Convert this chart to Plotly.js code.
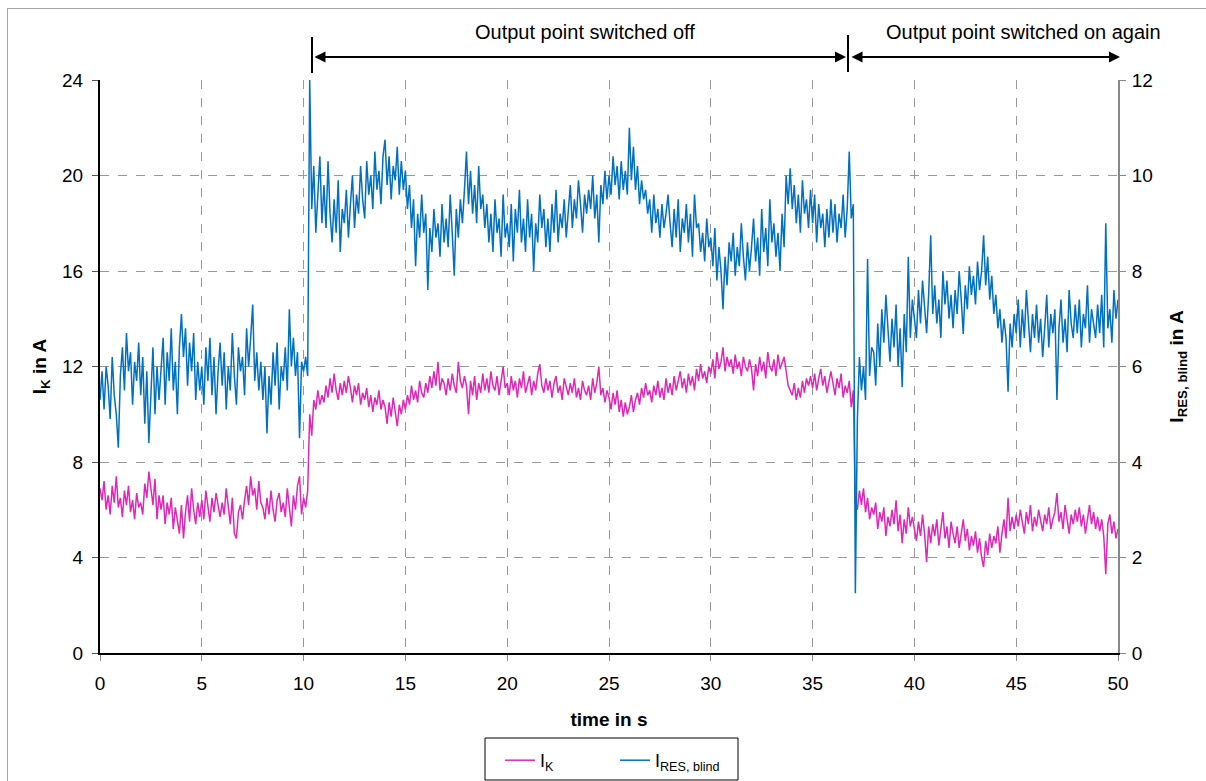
<!DOCTYPE html>
<html>
<head>
<meta charset="utf-8">
<script src="https://cdn.plot.ly/plotly-3.0.1.min.js"></script>
<style>
  html, body { margin: 0; padding: 0; background: #fff; }
  #chart { position: absolute; left: 0; top: 0; width: 1206px; height: 781px; }
  #frame { position: absolute; left: 7px; top: 8px; width: 1300px; height: 900px;
           border-left: 1px solid #a6a6a6; border-top: 1px solid #a6a6a6; pointer-events: none; }
</style>
</head>
<body>
<div id="chart"></div>
<div id="frame"></div>
<script>
// sampling of the recorded signals (seconds)
const T0 = 0;
const DT = 0.1;

// I_K in A (left axis), one row per second, 10 samples per row
const iK = [
  6.9, 6.4, 7.2, 6.0, 6.6, 5.8, 7.0, 6.3, 7.4, 6.1,
  6.5, 5.7, 6.8, 6.2, 7.0, 5.9, 6.4, 5.6, 6.7, 6.1,
  6.3, 5.8, 7.1, 6.5, 7.6, 6.9, 6.2, 7.3, 5.6, 6.6,
  6.0, 6.6, 5.4, 6.3, 5.8, 6.5, 5.2, 6.1, 5.6, 5.0,
  6.2, 4.8, 5.9, 6.6, 5.5, 6.9, 6.0, 5.4, 6.3, 5.7,
  6.4, 5.6, 6.8, 6.1, 5.5, 6.5, 5.9, 6.7, 6.2, 5.7,
  6.3, 5.8, 6.9, 6.0, 5.4, 6.5, 5.0, 4.8, 5.9, 6.2,
  5.6, 6.4, 7.0, 6.2, 7.4, 6.6, 6.9, 6.0, 7.2, 6.3,
  6.1, 5.6, 6.5, 5.8, 6.8, 6.0, 5.5, 6.4, 6.7, 5.9,
  6.3, 5.7, 6.9, 6.1, 5.3, 6.6, 6.0, 7.0, 7.4, 5.8,
  6.5, 6.1, 6.8, 10.0, 9.1, 10.6, 10.2, 11.0, 10.4, 10.8,
  10.5, 11.2, 10.7, 11.5, 10.9, 11.7, 11.0, 10.6, 11.3, 10.8,
  11.4, 10.9, 11.6, 11.1, 10.5, 11.2, 10.8, 11.3, 10.4, 10.9,
  10.6, 11.1, 10.3, 10.8, 10.1, 10.7, 10.4, 11.0, 10.2, 10.6,
  10.3, 9.6, 10.5, 9.9, 10.7, 10.1, 9.5, 10.4, 10.0, 10.6,
  10.2, 10.8, 10.4, 11.2, 10.6, 11.0, 10.5, 11.4, 10.9, 10.7,
  11.3, 10.9, 11.6, 11.1, 11.8, 11.2, 12.2, 11.0, 11.5, 11.3,
  10.8, 11.5, 11.0, 11.7, 11.2, 10.9, 12.2, 11.4, 11.1, 11.6,
  11.2, 10.0, 11.4, 10.8, 11.6, 10.6, 11.3, 10.9, 11.7, 11.0,
  11.5, 10.9, 11.8, 11.2, 11.0, 11.6, 10.8, 11.4, 12.0, 11.1,
  11.3, 10.8, 11.6, 11.0, 11.4, 10.7, 11.5, 11.1, 11.8, 10.9,
  11.2, 11.6, 10.8, 11.4, 11.0, 11.7, 12.1, 11.2, 10.9, 11.5,
  11.0, 11.4, 10.7, 11.3, 11.6, 10.9, 11.2, 10.6, 11.5, 11.1,
  10.8, 11.3, 10.9, 11.5, 10.7, 11.1, 10.6, 11.4, 11.0, 10.8,
  11.2, 10.6, 11.5, 10.9, 11.3, 12.0, 10.8, 11.1, 10.5, 11.0,
  10.7, 10.2, 10.9, 10.4, 11.0, 10.1, 10.6, 9.9, 10.5, 10.0,
  10.3, 10.8, 10.1, 10.6, 10.9, 10.4, 11.1, 10.7, 11.3, 10.8,
  11.0, 10.5, 11.2, 10.8, 11.4, 10.7, 11.1, 10.6, 11.5, 10.9,
  11.3, 10.8, 11.6, 11.0, 11.4, 11.8, 11.1, 11.5, 10.9, 11.7,
  11.2, 11.6, 11.0, 11.9, 11.4, 12.1, 11.5, 11.8, 11.3, 12.0,
  11.7, 12.3, 11.5, 12.6, 11.9, 12.2, 12.8, 11.8, 12.4, 12.0,
  12.3, 11.7, 12.5, 11.9, 12.2, 11.6, 12.4, 12.0, 11.8, 12.3,
  11.9, 11.0, 12.1, 11.6, 12.4, 11.8, 12.2, 11.5, 12.6, 12.0,
  11.8, 12.3, 11.6, 12.5, 11.9, 12.2, 12.4, 11.8, 11.2, 11.0,
  10.8, 11.3, 10.6, 11.1, 10.7, 11.4, 10.9, 11.5, 11.2, 11.6,
  11.1, 11.7, 11.0, 11.5, 11.9, 11.2, 11.6, 10.9, 11.4, 11.8,
  11.3, 10.8, 11.5, 11.1, 11.7, 10.7, 11.2, 10.9, 11.4, 10.3,
  11.0, 6.3, 6.0, 6.8, 6.2, 6.9, 5.9, 6.5, 5.6, 6.1,
  5.8, 6.3, 5.2, 5.9, 5.5, 6.1, 4.9, 5.7, 5.3, 6.0,
  5.4, 6.4, 5.1, 5.8, 4.6, 5.6, 5.0, 6.1, 5.3, 5.7,
  5.2, 4.7, 5.5, 4.9, 5.8, 5.0, 3.8, 5.3, 4.6, 5.4,
  4.9, 5.6, 4.5, 5.2, 5.9, 4.8, 5.3, 4.4, 5.5, 5.0,
  4.6, 5.3, 4.4, 5.0, 5.6, 4.7, 5.2, 4.3, 4.9, 4.5,
  5.1, 4.2, 4.8, 4.0, 3.6, 4.7, 4.1, 5.0, 4.4, 4.9,
  4.6, 5.3, 4.2, 5.0, 5.6, 4.8, 6.5, 5.1, 5.7, 5.2,
  5.8, 5.3, 6.0, 5.5, 5.0, 5.9, 5.4, 6.2, 5.1, 5.7,
  5.3, 6.0, 5.5, 5.1, 5.8, 5.4, 6.1, 5.2, 5.6, 5.9,
  6.7, 5.5, 5.9, 5.2, 6.2, 5.6, 5.0, 5.8, 5.4, 6.0,
  5.5, 6.1, 5.3, 5.8, 5.0, 5.6, 6.2, 5.4, 5.9, 5.2,
  5.7, 5.1, 5.6, 4.9, 3.3, 5.4, 5.8, 5.0, 5.5, 4.8,
  5.2
];

// I_RES,blind in A (right axis), one row per second, 10 samples per row
const iResBlind = [
  5.3, 5.9, 5.1, 6.0, 5.6, 4.9, 6.2, 5.4, 5.0, 4.3,
  5.8, 6.4, 5.5, 6.7, 5.9, 6.3, 5.2, 6.1, 5.7, 6.5,
  5.4, 6.2, 4.8, 5.9, 4.4, 5.6, 6.4, 5.0, 6.0, 5.3,
  5.9, 6.6, 5.2, 6.3, 5.7, 6.8, 5.5, 6.1, 5.0, 6.4,
  7.1, 6.2, 6.8, 5.6, 6.5, 5.9, 6.7, 5.3, 6.1, 5.5,
  6.0, 5.2, 6.4, 5.7, 6.6, 5.4, 6.2, 5.0, 5.9, 6.5,
  5.6, 6.3, 5.1, 6.0, 5.5, 6.7, 5.8, 5.2, 6.4, 5.9,
  6.2, 5.4, 6.8, 6.0, 6.6, 7.3, 5.7, 6.3, 5.5, 6.1,
  5.3, 6.0, 4.6, 5.8, 5.2, 6.3, 5.6, 6.5, 5.1, 6.0,
  5.7, 6.4, 5.5, 7.2, 6.0, 6.6, 5.8, 6.3, 4.5, 6.1,
  5.9, 6.2, 5.8, 12.0, 9.3, 10.2, 8.8, 9.6, 10.4, 9.0,
  9.8, 8.9, 10.3, 9.2, 8.6, 9.5, 8.8, 9.9, 8.4, 9.3,
  9.0, 9.7, 8.7, 9.4, 10.0, 8.9, 9.6, 9.2, 10.2, 9.5,
  9.1, 10.3, 9.6, 10.0, 9.3, 10.5, 9.7, 10.1, 9.4, 10.4,
  10.75, 9.8, 10.4, 9.5, 10.2, 9.9, 10.6, 9.6, 10.3, 9.7,
  10.1, 9.3, 9.8, 8.9, 9.5, 8.1, 9.2, 8.7, 9.6, 8.8,
  9.2, 7.6, 8.9, 8.4, 9.3, 8.7, 9.0, 8.3, 9.4, 8.6,
  9.1, 8.5, 9.6, 8.8, 7.9, 9.3, 8.7, 9.5, 9.0, 9.7,
  10.5, 9.4, 10.1, 9.2, 9.8, 9.0, 10.2, 9.3, 9.6, 8.9,
  9.4, 8.6, 9.2, 8.4, 9.5, 8.8, 9.1, 8.3, 9.6, 8.7,
  9.0, 8.5, 9.4, 8.2, 9.3, 8.8, 9.7, 8.6, 9.1, 8.4,
  9.5, 8.7, 9.2, 8.0, 9.0, 8.6, 9.6, 8.9, 9.3, 8.5,
  9.1, 8.4, 9.4, 8.8, 9.7, 8.6, 9.2, 8.9, 9.5, 8.7,
  9.3, 9.8, 8.9, 9.5, 9.1, 9.9, 9.4, 8.8, 9.6, 9.2,
  9.7, 9.3, 10.0, 9.1, 9.6, 8.6, 9.8, 9.4, 10.1, 9.5,
  10.0, 9.6, 10.4, 9.8, 10.2, 9.5, 10.3, 9.7, 10.1, 9.6,
  11.0, 9.9, 10.6, 9.7, 10.2, 9.4, 9.9, 9.5, 9.7, 9.2,
  9.5, 8.8, 9.6, 9.0, 9.3, 8.7, 9.4, 8.9, 9.2, 9.6,
  9.0, 8.5, 9.3, 8.7, 9.5, 8.4, 9.1, 8.8, 9.4, 8.6,
  9.2, 8.3, 9.6, 8.9, 9.0, 8.4, 8.8, 8.2, 9.1, 8.5,
  8.7, 8.1, 8.9, 7.8, 8.5, 8.0, 7.2, 8.3, 7.7, 8.6,
  8.2, 8.8, 7.9, 8.5, 8.1, 9.0, 8.3, 7.8, 8.6, 8.0,
  8.5, 9.1, 8.2, 8.7, 7.9, 9.3, 8.4, 8.9, 8.1, 9.5,
  8.6, 9.0, 8.3, 8.8, 8.0, 9.2, 8.5, 10.0, 9.4, 10.15,
  9.3, 9.8, 9.0, 9.6, 8.8, 9.9, 9.2, 9.5, 8.9, 9.7,
  9.0, 9.6, 8.6, 9.4, 8.9, 9.2, 8.5, 9.3, 8.7, 9.5,
  8.8, 9.4, 8.6, 9.2, 8.9, 9.6, 8.7, 9.3, 10.5, 9.1,
  9.4, 1.25, 4.9, 6.2, 5.5, 6.0, 5.3, 8.25, 5.8, 6.4,
  6.3, 5.6, 6.9, 6.0, 7.2, 6.5, 7.5, 6.8, 6.1, 7.0,
  6.4, 7.3, 6.0, 6.8, 5.57, 7.1, 6.3, 8.3, 6.6, 7.4,
  7.0, 6.6, 7.6, 6.9, 7.8, 7.2, 6.7, 7.5, 8.75, 7.1,
  7.7, 6.9, 7.4, 6.6, 8.0, 7.3, 7.8, 7.0, 7.5, 6.8,
  7.6, 7.1, 8.0, 7.4, 6.68, 7.7, 7.2, 8.1, 7.5, 7.9,
  7.3, 8.2, 7.6, 8.0, 8.75, 7.7, 8.3, 7.4, 7.9, 7.1,
  7.5, 6.8, 7.2, 6.5, 7.0, 6.6, 5.47, 6.9, 6.4, 7.1,
  6.7, 7.4, 6.4, 7.2, 6.6, 7.6, 6.9, 6.3, 7.1, 6.6,
  7.3, 6.5, 7.0, 6.2, 6.8, 7.5, 6.4, 7.1, 6.7, 7.2,
  5.3, 6.8, 7.4, 6.5, 7.0, 6.3, 7.6, 6.9, 6.6, 7.3,
  6.7, 7.4, 6.4, 7.1, 6.8, 7.7, 6.5, 7.2, 6.9, 6.6,
  7.3, 6.7, 7.5, 6.4, 9.0, 6.8, 7.2, 6.5, 7.6, 7.0,
  7.4
];

const seriesNames = ['I<sub>K</sub>', 'I<sub>RES, blind</sub>'];
const seriesColors = ['#e028b8', '#0070c0'];
const xTitle = 'time in s';
const yTitle = 'I<sub>K</sub> in A';
const y2Title = 'I<sub>RES, blind</sub> in A';
const labelOff = 'Output point switched off';
const labelOn = 'Output point switched on again';

const FONT = 'Liberation Sans, Arial, Helvetica, sans-serif';

const traces = [
  { type: 'scatter', mode: 'lines', name: seriesNames[0], x0: T0, dx: DT, y: iK,
    yaxis: 'y', line: { color: seriesColors[0], width: 1.5 } },
  { type: 'scatter', mode: 'lines', name: seriesNames[1], x0: T0, dx: DT, y: iResBlind,
    yaxis: 'y2', line: { color: seriesColors[1], width: 1.5 } }
];

const W = 1206, H = 781, L = 100, R = 88, T = 80, B = 128;
const pw = W - L - R, ph = H - T - B;
const px = v => (v - L) / pw;          // pixel x -> paper x
const py = v => (H - B - v) / ph;      // pixel y -> paper y

const layout = {
  width: W, height: H,
  margin: { l: L, r: R, t: T, b: B, pad: 0, autoexpand: false },
  paper_bgcolor: '#fff', plot_bgcolor: '#fff',
  font: { family: FONT, size: 19, color: '#000' },
  showlegend: true,
  legend: {
    orientation: 'h', x: px(500), xanchor: 'left', y: py(742), yanchor: 'top',
    borderwidth: 0, bgcolor: 'rgba(0,0,0,0)',
    font: { family: FONT, size: 18, color: '#000' },
    entrywidth: 70, entrywidthmode: 'pixels', itemwidth: 30,
    traceorder: 'normal'
  },
  xaxis: {
    range: [0, 50], tick0: 0, dtick: 5, ticks: 'outside', ticklen: 6, tickcolor: '#888',
    ticklabelstandoff: 6,
    showline: true, linecolor: '#000', linewidth: 2,
    showgrid: true, gridcolor: '#999', griddash: 'dash', gridwidth: 1, zeroline: false,
    tickfont: { family: FONT, size: 19, color: '#000' },
    title: { text: '<b>' + xTitle + '</b>', standoff: 20, font: { family: FONT, size: 19, color: '#000' } }
  },
  yaxis: {
    range: [0, 24], tick0: 0, dtick: 4, ticks: 'outside', ticklen: 6, tickcolor: '#555',
    ticklabelstandoff: 5,
    showline: true, linecolor: '#000', linewidth: 2,
    showgrid: true, gridcolor: '#999', griddash: 'dash', gridwidth: 1, zeroline: false,
    tickfont: { family: FONT, size: 19, color: '#000' },
    title: { text: '<b>' + yTitle + '</b>', standoff: 10, font: { family: FONT, size: 19, color: '#000' } }
  },
  yaxis2: {
    overlaying: 'y', side: 'right',
    range: [0, 12], tick0: 0, dtick: 2, ticks: 'outside', ticklen: 6, tickcolor: '#888',
    ticklabelstandoff: 2,
    showline: true, linecolor: '#888', linewidth: 2,
    showgrid: false, zeroline: false,
    tickfont: { family: FONT, size: 19, color: '#000' },
    title: { text: '<b>' + y2Title + '</b>', standoff: 18, font: { family: FONT, size: 19, color: '#000' } }
  },
  shapes: [
    { type: 'line', xref: 'paper', yref: 'paper', x0: px(312), x1: px(312), y0: py(73), y1: py(37),
      line: { color: '#000', width: 2 } },
    { type: 'line', xref: 'paper', yref: 'paper', x0: px(848), x1: px(848), y0: py(72), y1: py(35),
      line: { color: '#000', width: 2 } },
    { type: 'rect', xref: 'paper', yref: 'paper', x0: px(485), x1: px(738), y0: py(780), y1: py(738),
      line: { color: '#000', width: 1 }, fillcolor: 'rgba(0,0,0,0)' }
  ],
  annotations: [
    { xref: 'paper', yref: 'paper', x: px(585), y: py(32), text: labelOff, showarrow: false,
      xanchor: 'center', yanchor: 'middle', font: { family: FONT, size: 20, color: '#000' } },
    { xref: 'paper', yref: 'paper', x: px(1023), y: py(32), text: labelOn, showarrow: false,
      xanchor: 'center', yanchor: 'middle', font: { family: FONT, size: 20, color: '#000' } },
    { xref: 'paper', yref: 'paper', x: px(846), y: py(57), ax: 313 - 846, ay: 0, axref: 'pixel', ayref: 'pixel',
      text: '', showarrow: true, arrowhead: 2, arrowside: 'end+start', arrowsize: 1.1, arrowwidth: 2,
      arrowcolor: '#000', standoff: 0, startstandoff: 0 },
    { xref: 'paper', yref: 'paper', x: px(1120), y: py(57), ax: 850 - 1120, ay: 0, axref: 'pixel', ayref: 'pixel',
      text: '', showarrow: true, arrowhead: 2, arrowside: 'end+start', arrowsize: 1.1, arrowwidth: 2,
      arrowcolor: '#000', standoff: 0, startstandoff: 0 }
  ]
};

Plotly.newPlot('chart', traces, layout, { displayModeBar: false, staticPlot: true });
</script>
</body>
</html>
